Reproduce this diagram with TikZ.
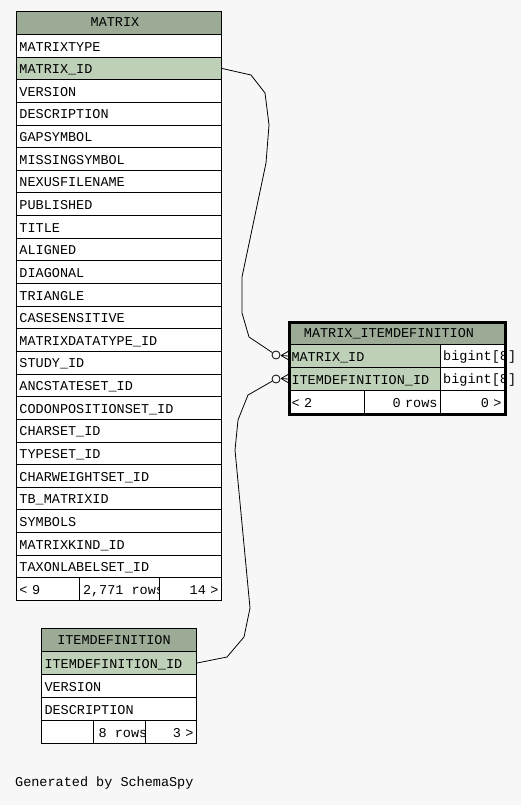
\documentclass[tikz,border=0pt]{standalone}
\usepackage{fontspec}
\setmonofont{Liberation Mono}
\definecolor{bgc}{HTML}{F7F7F7}
\definecolor{headc}{HTML}{9BAB96}
\definecolor{keyc}{HTML}{BED1B8}
\begin{document}
\begin{tikzpicture}[x=1pt,y=-1pt,
  every node/.style={font=\ttfamily\fontsize{13.5}{16}\selectfont},
  cellbox/.style={draw=black, line width=1pt, anchor=north west, inner xsep=3pt, inner ysep=0pt,
                  text height=10.4pt, text depth=0pt, fill=white},
  mrow/.style={cellbox, minimum width=205pt, text width=199pt, minimum height=22.64pt, align=left},
  irow/.style={cellbox, minimum width=155pt, text width=149pt, minimum height=23pt, align=left},
  head/.style={fill=headc},
  key/.style={fill=keyc},
  txt/.style={anchor=base west, inner sep=0pt},
  ctxt/.style={anchor=base, inner sep=0pt},
  conn/.style={draw=black, line width=0.8pt},
  zero/.style={circle, draw=black, line width=0.8pt, fill=bgc, minimum size=8pt, inner sep=0pt}
]
\useasboundingbox (0,0) rectangle (521,805);
\fill[bgc] (0,0) rectangle (521,805);

% ---------- MATRIX ----------
\node[mrow, head, minimum height=23pt] (mh) at (16,11) {};
\node[ctxt] (mht) at (115,27) {MATRIX};
\foreach \t [count=\i] in {MATRIXTYPE, MATRIX\_ID, VERSION, DESCRIPTION, GAPSYMBOL, MISSINGSYMBOL,
  NEXUSFILENAME, PUBLISHED, TITLE, ALIGNED, DIAGONAL, TRIANGLE, CASESENSITIVE, MATRIXDATATYPE\_ID,
  STUDY\_ID, ANCSTATESET\_ID, CODONPOSITIONSET\_ID, CHARSET\_ID, TYPESET\_ID, CHARWEIGHTSET\_ID,
  TB\_MATRIXID, SYMBOLS, MATRIXKIND\_ID, TAXONLABELSET\_ID}{
  \ifnum\i=2 \def\rowfill{keyc}\else\def\rowfill{white}\fi
  \node[mrow, fill=\rowfill] (m\i) at (16,{34+(\i-1)*22.64}) {\t};
}
\node[cellbox, minimum width=63pt, text width=57pt, minimum height=22.6pt, align=left] (mf1) at (16,577.4) {<~9};
\node[cellbox, minimum width=80pt, minimum height=22.6pt,
  path picture={\node[txt] at ([shift={(3,16.5)}]path picture bounding box.north west) {2,771 rows};}] (mf2) at (79,577.4) {};
\node[cellbox, minimum width=62pt, text width=56pt, minimum height=22.6pt, align=right] (mf3) at (159,577.4) {14 >};

% ---------- MATRIX_ITEMDEFINITION ----------
\node[cellbox, head, minimum width=216pt, minimum height=23pt] (dh) at (288,321) {};
\node[ctxt] (dht) at (389,337.5) {MATRIX\_ITEMDEFINITION};
\node[cellbox, key, minimum width=152pt, text width=146pt, minimum height=23pt, align=left] (d1) at (288,344) {MATRIX\_ID};
\node[cellbox, minimum width=64pt, minimum height=23pt] (d1t) at (440,344) {};
\node[txt] (d1tt) at (443,360.5) {bigint[8]};
\node[cellbox, key, minimum width=152pt, text width=146pt, minimum height=23pt, align=left] (d2) at (288,367) {ITEMDEFINITION\_ID};
\node[cellbox, minimum width=64pt, minimum height=23pt] (d2t) at (440,367) {};
\node[txt] (d2tt) at (443,383.5) {bigint[8]};
\node[cellbox, minimum width=76pt, text width=70pt, minimum height=23pt, align=left] (df1) at (288,390) {<~2};
\node[cellbox, minimum width=76pt, text width=70pt, minimum height=23pt, align=right] (df2) at (364,390) {0 rows};
\node[cellbox, minimum width=64pt, text width=58pt, minimum height=23pt, align=right] (df3) at (440,390) {0 >};
\node[draw=black, line width=3pt, anchor=north west, minimum width=216pt, minimum height=92pt, inner sep=0pt] (dbox) at (288,321) {};

% ---------- ITEMDEFINITION ----------
\node[irow, head] (ih) at (41,628) {};
\node[ctxt] (iht) at (114,644) {ITEMDEFINITION};
\node[irow, key] (i1) at (41,651) {ITEMDEFINITION\_ID};
\node[irow] (i2) at (41,674) {VERSION};
\node[irow] (i3) at (41,697) {DESCRIPTION};
\node[cellbox, minimum width=52pt, minimum height=23pt] (if1) at (41,720) {};
\node[cellbox, minimum width=52pt, minimum height=23pt,
  path picture={\node[txt] at ([shift={(3,16.5)}]path picture bounding box.north west) {8 rows};}] (if2) at (93,720) {};
\node[cellbox, minimum width=51pt, text width=45pt, minimum height=23pt, align=right] (if3) at (145,720) {3 >};

% ---------- connectors ----------
\node[zero] (c1) at (276,355) {};
\node[zero] (c2) at (276,379) {};
\coordinate (f1) at (281,355.5);
\coordinate (f2) at (281,378.5);

\draw[conn] (m2.east) -- (251,75) -- (265,93) -- (269,125) -- (266,163) -- (242,277)
  -- (242,313) -- (249,337) -- (c1);
\draw[conn] (f1) -- (d1.west |- 0,351.5);
\draw[conn] (f1) -- (d1.west);
\draw[conn] (f1) -- (d1.west |- 0,359.5);

\draw[conn] (i1.east) -- (227,657) -- (244,637) -- (250,608) -- (235,450) -- (238,420)
  -- (248,395) -- (c2);
\draw[conn] (f2) -- (d2.west |- 0,374.5);
\draw[conn] (f2) -- (d2.west);
\draw[conn] (f2) -- (d2.west |- 0,382.5);

\node[txt] (gen) at (15,786) {Generated by SchemaSpy};
\end{tikzpicture}
\end{document}
